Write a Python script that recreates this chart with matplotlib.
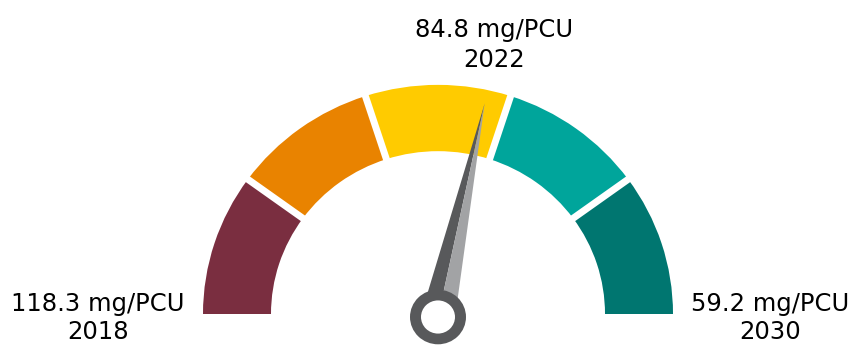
import matplotlib.pyplot as plt
from matplotlib.patches import Wedge, Polygon, Circle
import numpy as np

# gauge data
start_value = 118.3
current_value = 84.8
target_value = 59.2
start_year = "2018"
current_year = "2022"
target_year = "2030"
band_colors = ["#7A2E40", "#E98300", "#FFCB00", "#00A59B", "#007670"]

fig = plt.figure(figsize=(8.5, 3.45), dpi=100)
ax = fig.add_axes([0, 0, 1, 1])
# gauge is drawn slightly flattened vertically
sy = 0.975
ax.set_xlim(0, 850)
ax.set_ylim(0, 345 / sy)
ax.axis("off")

cx, cy = 438, 31 / sy
r_out, r_in = 235, 167

# coloured bands, left (start) to right (target)
n = len(band_colors)
step = 180 / n
for i, c in enumerate(band_colors):
    a1 = 180 - (i + 1) * step
    a2 = 180 - i * step
    ax.add_patch(Wedge((cx, cy), r_out, a1, a2, width=r_out - r_in, color=c, lw=0))

# white gaps between bands
for i in range(1, n):
    a = np.radians(180 - i * step)
    ax.plot([cx + (r_in - 5) * np.cos(a), cx + (r_out + 5) * np.cos(a)],
            [cy + (r_in - 5) * np.sin(a), cy + (r_out + 5) * np.sin(a)],
            color="white", lw=5, solid_capstyle="butt")

# needle
frac = (start_value - current_value) / (start_value - target_value)
ang = np.radians(180 - frac * 180)
ncx, ncy = 438, 28 / sy
tip = (ncx + 224 * np.cos(ang), ncy + 224 * np.sin(ang))
half_w = 17
perp = np.array([-np.sin(ang), np.cos(ang)])
base_l = (ncx + perp[0] * half_w, ncy + perp[1] * half_w)
base_r = (ncx - perp[0] * half_w, ncy - perp[1] * half_w)
ax.add_patch(Polygon([base_l, tip, (ncx, ncy)], closed=True, color="#58595B", lw=0))
ax.add_patch(Polygon([(ncx, ncy), tip, base_r], closed=True, color="#A2A3A5", lw=0))

# hub ring
ax.add_patch(Circle((ncx, ncy), 28, color="#58595B", lw=0))
ax.add_patch(Circle((ncx, ncy), 17, color="white", lw=0))

fs = 17.5
ax.text(98, 27 / sy, f"{start_value} mg/PCU\n{start_year}", ha="center", va="center",
        fontsize=fs, linespacing=1.25)
ax.text(770, 27 / sy, f"{target_value} mg/PCU\n{target_year}", ha="center", va="center",
        fontsize=fs, linespacing=1.25)
ax.text(494, 300 / sy, f"{current_value} mg/PCU\n{current_year}", ha="center", va="center",
        fontsize=fs, linespacing=1.3)

fig.savefig("out.png", dpi=100)
